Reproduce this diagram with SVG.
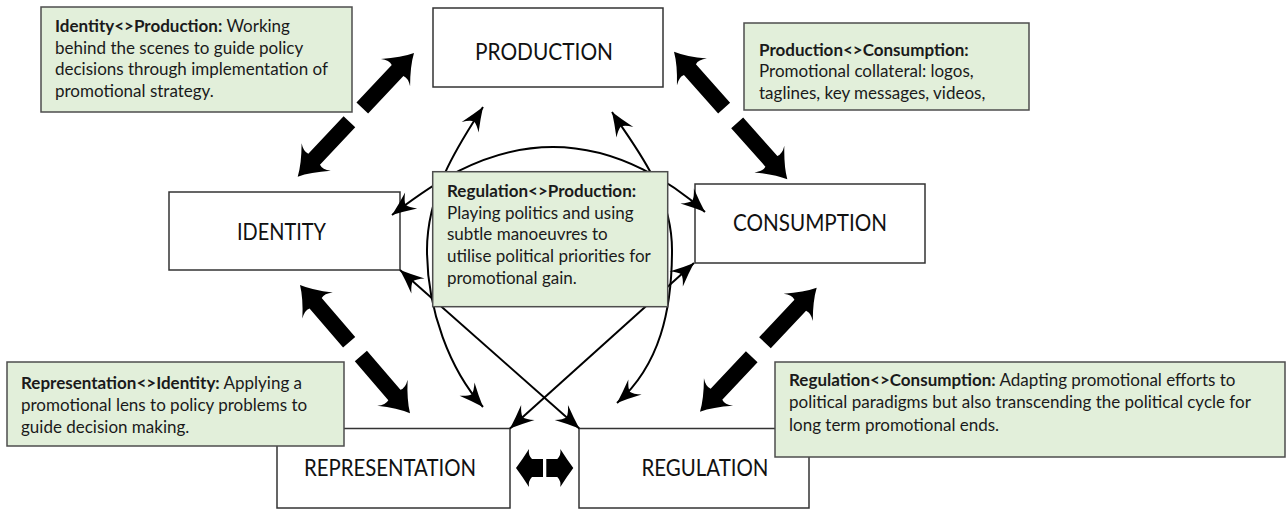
<svg xmlns="http://www.w3.org/2000/svg" xmlns:xlink="http://www.w3.org/1999/xlink" width="1286" height="509" viewBox="0 0 1286 509">
<style>
.node{fill:#ffffff;stroke:#333333;stroke-width:1.5}
.note{fill:#e2efda;stroke:#4d4d4d;stroke-width:1.5}
.lbl{font-family:Lato,"Open Sans",sans-serif;font-size:24px;fill:#111111;text-anchor:middle}
.txt{font-family:Lato,"Open Sans",sans-serif;font-size:17px;fill:#1a1a1a}
.b{font-weight:bold}
.thin{fill:none;stroke:#000000;stroke-width:2;marker-start:url(#ah);marker-end:url(#ah)}
.blk{fill:#000000}
</style>
<defs>
<marker id="ah" markerUnits="userSpaceOnUse" markerWidth="30" markerHeight="26" viewBox="-28 -13 30 26" refX="0" refY="0" orient="auto-start-reverse" overflow="visible">
<path d="M0,0 Q-11,-4 -24,-10 Q-18,-4 -17,0 Q-18,4 -24,10 Q-11,4 0,0Z" fill="#000000"/>
</marker>
<path id="half" d="M0,0 Q-12,-6 -27,-20 Q-22,-13 -24,-8 L-75.5,-8 L-75.5,8 L-24,8 Q-22,13 -27,20 Q-12,6 0,0Z"/>
<path id="halfS" d="M0,0 Q-6,-8 -13,-19 Q-12,-13 -16,-9 L-27,-9 L-27,9 L-16,9 Q-12,13 -13,19 Q-6,8 0,0Z"/>
</defs>

<g id="production">
<rect class="node" x="433" y="8" width="230" height="79"/>
<text class="lbl" x="544" y="60" textLength="138" lengthAdjust="spacingAndGlyphs">PRODUCTION</text>
</g>
<g id="identity">
<rect class="node" x="169" y="192" width="231" height="78"/>
<text class="lbl" x="281.5" y="240" textLength="89" lengthAdjust="spacingAndGlyphs">IDENTITY</text>
</g>
<g id="consumption">
<rect class="node" x="695" y="184" width="230" height="79"/>
<text class="lbl" x="810" y="231" textLength="154" lengthAdjust="spacingAndGlyphs">CONSUMPTION</text>
</g>
<g id="representation">
<rect class="node" x="277" y="428.5" width="233" height="79.5"/>
<text class="lbl" x="390" y="476" textLength="172" lengthAdjust="spacingAndGlyphs">REPRESENTATION</text>
</g>
<g id="regulation">
<rect class="node" x="579" y="428.5" width="230" height="79.5"/>
<text class="lbl" x="705" y="476" textLength="127" lengthAdjust="spacingAndGlyphs">REGULATION</text>
</g>

<g id="connectors">
<g class="blk">
<use xlink:href="#half" transform="translate(414,53) rotate(-46.77)"/>
<use xlink:href="#half" transform="translate(297.7,176.7) rotate(133.23)"/>
<use xlink:href="#half" transform="translate(674,51.7) rotate(228.4)"/>
<use xlink:href="#half" transform="translate(787.3,179.3) rotate(48.4)"/>
<use xlink:href="#half" transform="translate(300,285) rotate(229.4)"/>
<use xlink:href="#half" transform="translate(410,413.3) rotate(49.4)"/>
<use xlink:href="#half" transform="translate(816.7,287.7) rotate(-46.74)"/>
<use xlink:href="#half" transform="translate(700,411.7) rotate(133.26)"/>
<use xlink:href="#halfS" transform="translate(516,468) rotate(180)"/>
<use xlink:href="#halfS" transform="translate(573.3,468)"/>
</g>
<path class="thin" d="M392,215 C425,190 480,147 553,147 C620,147 675,185 705,212"/>
<path class="thin" d="M483,107 C462,140 427,190 427,250 C427,310 450,370 483,407"/>
<path class="thin" d="M612,112 C633,145 672,190 672,250 C672,310 660,365 617,403"/>
<path class="thin" d="M400,270 L579.3,428.5"/>
<path class="thin" d="M694,263 L510,428.5"/>
</g>

<g id="note-identity-production">
<rect class="note" x="41" y="7" width="311" height="105"/>
<text class="txt"><tspan x="55" y="32"><tspan class="b">Identity&lt;&gt;Production:</tspan> Working</tspan><tspan x="55" y="53.7">behind the scenes to guide policy</tspan><tspan x="55" y="75.4">decisions through implementation of</tspan><tspan x="55" y="97.1">promotional strategy.</tspan></text>
</g>
<g id="note-production-consumption">
<rect class="note" x="744" y="23" width="285" height="87"/>
<text class="txt"><tspan x="759" y="55.5" class="b">Production&lt;&gt;Consumption:</tspan><tspan x="759" y="77.2">Promotional collateral: logos,</tspan><tspan x="759" y="98.9">taglines, key messages, videos,</tspan></text>
</g>
<g id="note-regulation-production">
<rect class="note" x="432.7" y="171.7" width="235" height="135"/>
<text class="txt"><tspan x="447" y="197" class="b">Regulation&lt;&gt;Production:</tspan><tspan x="447" y="218.7">Playing politics and using</tspan><tspan x="447" y="240.4">subtle manoeuvres to</tspan><tspan x="447" y="262.1">utilise political priorities for</tspan><tspan x="447" y="283.8">promotional gain.</tspan></text>
</g>
<g id="note-representation-identity">
<rect class="note" x="7" y="362" width="337" height="84"/>
<text class="txt"><tspan x="21" y="389"><tspan class="b">Representation&lt;&gt;Identity:</tspan> Applying a</tspan><tspan x="21" y="411">promotional lens to policy problems to</tspan><tspan x="21" y="432.7">guide decision making.</tspan></text>
</g>
<g id="note-regulation-consumption">
<rect class="note" x="775" y="362" width="510" height="95"/>
<text class="txt"><tspan x="789" y="385.5"><tspan class="b">Regulation&lt;&gt;Consumption:</tspan> Adapting promotional efforts to</tspan><tspan x="789" y="408">political paradigms but also transcending the political cycle for</tspan><tspan x="789" y="430.5">long term promotional ends.</tspan></text>
</g>
</svg>
